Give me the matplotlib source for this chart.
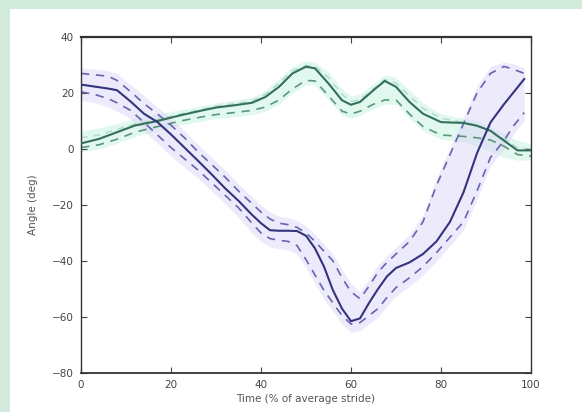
import numpy as np
import matplotlib
matplotlib.use("Agg")
import matplotlib.pyplot as plt
from matplotlib.patches import Rectangle

# ---------------- data ----------------
x_p = [0, 3, 6, 8, 11, 14, 17, 20, 23, 26, 29, 32, 35, 38, 40, 42, 44, 46, 48, 50,
       52, 54, 56, 58, 60, 62, 64, 66, 68, 70, 73, 76, 79, 82, 85, 88, 91, 94, 96, 98.5]
p_mean = [23, 22.3, 21.6, 21, 17, 12.6, 9.6, 5.2, 0.5, -4.2, -9, -14, -18.5, -23.5, -26.5,
          -29, -29.2, -29.2, -29.3, -31, -35.5, -42, -50.5, -57, -61.5, -60.5, -55, -50,
          -45.5, -42.5, -40.5, -37.5, -33, -26, -15.5, -1.5, 9.5, 16, 20, 25]
p_upper = [27, 26.5, 26, 24.5, 20.5, 16.2, 12.5, 8.5, 4, -1, -5.5, -10, -15, -19.5, -22.5,
           -25, -26.5, -27, -28, -30, -33, -36.5, -40, -46, -51, -53.5, -49, -44, -40.5,
           -37.5, -33, -26, -13, -2, 9, 20, 27, 29.5, 28.5, 27]
p_lower = [20.4, 19.5, 18, 16.5, 13.8, 9.5, 5, 0.5, -3.5, -7.5, -12, -16.5, -21, -26.5, -30,
           -32, -32.6, -33, -34.5, -39.5, -45, -50.5, -55, -59.5, -62.5, -62, -59.5, -57,
           -53, -49.5, -46, -42, -37, -31.5, -26, -15, -3, 3, 8, 13]
p_band_hi = [29, 28.5, 28, 27, 23, 19, 15, 11, 6.5, 1.5, -3, -7.5, -12.5, -17, -20, -22.5,
             -24, -24.5, -25.5, -27.5, -30.5, -34, -37.5, -43, -48, -51, -46.5, -41.5, -38,
             -35, -30.5, -23.5, -10.5, 0.5, 11.5, 22.5, 29.5, 31, 30.5, 29]
p_band_lo = [17.4, 16.5, 15, 13.5, 10.8, 6.5, 2, -2.5, -6.5, -10.5, -15, -19.5, -24.5, -30,
             -33, -35, -35.6, -36, -37.5, -42.5, -48, -53.5, -58, -62.5, -65.5, -65, -62.5,
             -60, -56, -52.5, -49, -45, -40, -34.5, -29, -18, -6, 0, 5, 10]

x_g = [0, 4, 8, 12, 17, 22, 27, 30, 34, 38, 41, 44, 47, 50, 52, 55, 58, 60, 62, 65, 67.5,
       70, 73, 76, 80, 85, 88, 91, 94, 97, 100]
g_mean = [2, 3.6, 6, 8.4, 10, 12, 13.8, 14.8, 15.6, 16.5, 18.6, 22.2, 27, 29.4, 28.8, 23.4,
          17.4, 15.8, 16.8, 21, 24.3, 22.2, 16.8, 12.6, 9.6, 9.3, 8.3, 6.5, 3, -0.5, -0.5]
g_upper = [4, 5, 7, 9, 10.5, 12.5, 14.2, 15.3, 16.2, 17.2, 19.5, 23.5, 28, 29.8, 29.5, 25.5,
           19.5, 17, 17.5, 21.5, 24.8, 23.5, 19, 14.5, 11, 9.5, 8.5, 6.5, 3.5, 0.5, 0]
g_lower = [0.5, 1.5, 3.5, 6, 8, 10, 11.5, 12.3, 13, 13.8, 15, 17.5, 21.5, 24.5, 24.3, 19,
           13.5, 12.5, 13.5, 16, 17.5, 17.5, 12.5, 8, 5, 4.5, 4, 3.2, 1, -2, -2.5]
g_band_hi = [6.5, 7.5, 9, 11, 12.5, 14, 15.5, 16.5, 17.5, 18.5, 21, 25, 29.5, 31.5, 31, 27.5,
             21.5, 19, 19.5, 23.5, 26.5, 25.5, 21, 16.5, 12.5, 11, 10, 8, 5.5, 3, 2]
g_band_lo = [-1, 0, 2, 4.5, 6.5, 8.5, 10, 10.8, 11.5, 12.3, 13.5, 16, 20, 23, 22.8, 17.5, 12,
             11, 12, 14.5, 16, 16, 11, 6.5, 3.5, 2.5, 1, -1, -3, -4, -4]

x_ticks = [0, 20, 40, 60, 80, 100]
y_ticks = [40, 20, 0, -20, -40, -60, -80]
y_ticklabels = ["40", "20", "0", "\u221220", "\u221240", "\u221260", "\u221280"]

# ---------------- figure ----------------
fig = plt.figure(figsize=(5.82, 4.12), dpi=100, facecolor="white")
# scanned-page mint border
fig.patches.append(Rectangle((0, 0), 10 / 582, 1, transform=fig.transFigure,
                             facecolor="#d2eadb", edgecolor="none", zorder=0))
fig.patches.append(Rectangle((0, 1 - 9 / 412), 1, 9 / 412, transform=fig.transFigure,
                             facecolor="#d2eadb", edgecolor="none", zorder=0))

ax = fig.add_axes([81 / 582, 1 - 373 / 412, 450 / 582, 336 / 412])

purple_band = "#dcd6f8"
green_band = "#cdf4e4"
ax.fill_between(x_g, g_band_lo, g_band_hi, color=green_band, alpha=0.6, lw=0, zorder=1)
ax.fill_between(x_p, p_band_lo, p_band_hi, color=purple_band, alpha=0.5, lw=0, zorder=1)

ax.plot(x_g, g_upper, color="#8cc4ad", lw=1.0, ls=(0, (5, 4)), alpha=0.6, zorder=2)
ax.plot(x_g, g_lower, color="#5c9680", lw=1.2, ls=(0, (5, 4)), zorder=2)
ax.plot(x_p, p_upper, color="#6664b0", lw=1.2, ls=(0, (5, 4)), zorder=2)
ax.plot(x_p, p_lower, color="#6664b0", lw=1.2, ls=(0, (5, 4)), zorder=2)
ax.plot(x_g, g_mean, color="#33705b", lw=1.5, zorder=3)
ax.plot(x_p, p_mean, color="#34347e", lw=1.5, zorder=3)

ax.set_xlim(0, 100)
ax.set_ylim(-80, 40)
ax.set_xticks(x_ticks)
ax.set_yticks(y_ticks)
ax.set_yticklabels(y_ticklabels)
ax.tick_params(direction="in", top=True, right=True, length=4, width=0.8,
               colors="#444444", labelsize=7.5, pad=5)
for s in ax.spines.values():
    s.set_color("#333333")
    s.set_linewidth(1.0)
ax.spines["top"].set_linewidth(1.6)
ax.spines["bottom"].set_linewidth(1.3)

ax.set_xlabel("Time (% of average stride)", fontsize=7.5, color="#555555", labelpad=3)
ax.set_ylabel("Angle (deg)", fontsize=7.5, color="#555555", labelpad=10)

fig.savefig("out.png", dpi=100, facecolor="white")
